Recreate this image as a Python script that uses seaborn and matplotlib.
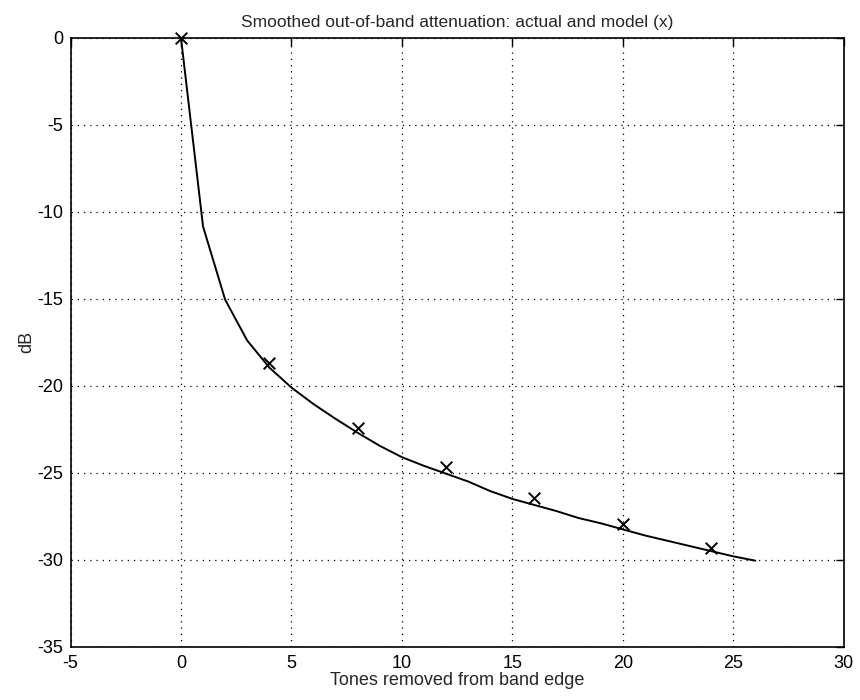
import matplotlib
matplotlib.use("Agg")
import matplotlib.pyplot as plt
import seaborn as sns
import pandas as pd

# Smoothed model curve (dB) versus tones removed from band edge
model_tones = list(range(0, 27))
model_db = [0.0, -10.85, -15.05, -17.4, -18.95, -20.1, -21.05, -21.9, -22.7,
            -23.45, -24.1, -24.6, -25.05, -25.5, -26.05, -26.5, -26.85, -27.2,
            -27.6, -27.9, -28.25, -28.6, -28.9, -29.2, -29.5, -29.8, -30.05]

# Measured attenuation (x markers)
actual_tones = [0, 4, 8, 12, 16, 20, 24]
actual_db = [0.0, -18.7, -22.4, -24.65, -26.45, -27.95, -29.35]

x_ticks = [-5, 0, 5, 10, 15, 20, 25, 30]
y_ticks = [-35, -30, -25, -20, -15, -10, -5, 0]

sns.set_style("white")
plt.rcParams["font.family"] = ["Liberation Sans", "DejaVu Sans"]

model = pd.DataFrame({"tones": model_tones, "db": model_db})
actual = pd.DataFrame({"tones": actual_tones, "db": actual_db})

fig = plt.figure(figsize=(8.6, 7.0), dpi=100)
ax = fig.add_axes([0.082, 0.076, 0.899, 0.870])

sns.lineplot(data=model, x="tones", y="db", ax=ax, color="black",
             linewidth=1.4, zorder=3)
sns.scatterplot(data=actual, x="tones", y="db", ax=ax, marker="x",
                color="black", s=70, linewidth=1.4, zorder=4, clip_on=False)

ax.set_xlim(-5, 30)
ax.set_ylim(-35, 0)
ax.set_xticks(x_ticks)
ax.set_yticks(y_ticks)
ax.set_xticklabels([str(v) for v in x_ticks], fontsize=13)
ax.set_yticklabels([str(v) for v in y_ticks], fontsize=13)

ax.grid(True, color="black", linestyle=(0, (1, 4)), linewidth=0.9)
ax.tick_params(direction="in", length=6, width=1, top=True, right=True,
               colors="black")
ax.tick_params(axis="x", pad=6)
ax.tick_params(axis="y", pad=5)
for spine in ax.spines.values():
    spine.set_visible(True)
    spine.set_color("black")
    spine.set_linewidth(1.2)

ax.set_title("Smoothed out-of-band attenuation: actual and model (x)",
             fontsize=12.5, pad=8)
ax.set_xlabel("Tones removed from band edge", fontsize=13, labelpad=0)
ax.set_ylabel("dB", fontsize=13, labelpad=2)

fig.savefig("out.png", dpi=100, facecolor="white")
